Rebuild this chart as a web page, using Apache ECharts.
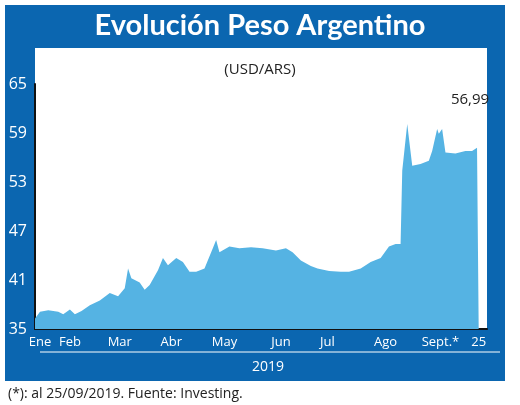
<!DOCTYPE html><html><head><meta charset="utf-8">
<script src="https://cdn.jsdelivr.net/npm/echarts@6/dist/echarts.min.js"></script>
<style>html,body{margin:0;padding:0;background:#fff}#c{width:520px;height:405px}</style></head><body><div id="c"></div><script>
var days=[0,3,8,14,17,21,24,28,33,39,45,50,54,56,58,63,66,69,74,77,80,85,89,93,97,102,107,109,111,117,123,130,137,145,151,155,160,166,170,177,184,189,196,202,208,213,217,220,221,224,227,232,237,239,242,243,245,247,253,259,263,266,267];
var values=[36.3,37.1,37.3,37.1,36.8,37.4,36.8,37.2,37.9,38.5,39.4,39.0,40.0,42.4,41.2,40.7,39.8,40.4,42.2,43.7,42.8,43.7,43.2,42.0,42.0,42.4,44.9,45.9,44.4,45.1,44.9,45.0,44.9,44.6,44.9,44.4,43.4,42.7,42.4,42.1,42.0,42.0,42.4,43.2,43.7,45.1,45.4,45.4,54.4,60.1,55.0,55.2,55.6,56.8,59.5,58.9,59.5,56.6,56.5,56.8,56.8,57.2,56.99];
var tickDays=[3,21,51,82,114,148,176,211,244,267];
var tickLabels=['Ene','Feb','Mar','Abr','May','Jun','Jul','Ago','Sept.*','25'];
var yTicks=[35,41,47,53,59,65];
var F='"Open Sans",Lato,sans-serif';
var blue='#0b66b0';
var c=echarts.init(document.getElementById('c'));
c.setOption({animation:false,
graphic:[
{type:'rect',shape:{x:5,y:5,width:500,height:376},style:{fill:blue},z:-10},
{type:'rect',shape:{x:35,y:48,width:452,height:282},style:{fill:'#fff'},z:-9},
{type:'text',x:260,y:26,style:{text:'Evolución Peso Argentino',fill:'#fff',font:'bold 29px Lato, "Open Sans", sans-serif',textAlign:'center',textVerticalAlign:'middle'}},
{type:'text',x:260,y:70,style:{text:'(USD/ARS)',fill:'#222',font:'15px '+F,textAlign:'center',textVerticalAlign:'middle'}},
{type:'text',x:470,y:100,style:{text:'56,99',fill:'#222',font:'15px '+F,textAlign:'center',textVerticalAlign:'middle'}},
{type:'line',shape:{x1:40,y1:352,x2:500,y2:352},style:{stroke:'#fff',lineWidth:1}},
{type:'text',x:268,y:367,style:{text:'2019',fill:'#fff',font:'14px '+F,textAlign:'center',textVerticalAlign:'middle'}},
{type:'text',x:8,y:394,style:{text:'(*): al 25/09/2019. Fuente: Investing.',fill:'#222',font:'14px '+F,textAlign:'left',textVerticalAlign:'middle'}}
],
grid:{left:35,right:33,top:84,bottom:76},
xAxis:{type:'value',min:0,max:272,axisLine:{show:true,lineStyle:{color:'#111',width:2}},axisTick:{show:false},splitLine:{show:false},
 axisLabel:{customValues:tickDays,formatter:function(v){return tickLabels[tickDays.indexOf(v)];},color:'#fff',fontFamily:F,fontSize:13,margin:7}},
yAxis:{type:'value',min:35,max:65,interval:6,axisLine:{show:true,lineStyle:{color:'#111',width:2}},axisTick:{show:false},splitLine:{show:false},
 axisLabel:{color:'#fff',fontFamily:F,fontSize:16,margin:8}},
series:[{type:'line',data:days.map(function(d,i){return [d,values[i]];}),symbol:'none',lineStyle:{width:0},areaStyle:{color:'#55b3e3',opacity:1}}]
});
</script></body></html>
